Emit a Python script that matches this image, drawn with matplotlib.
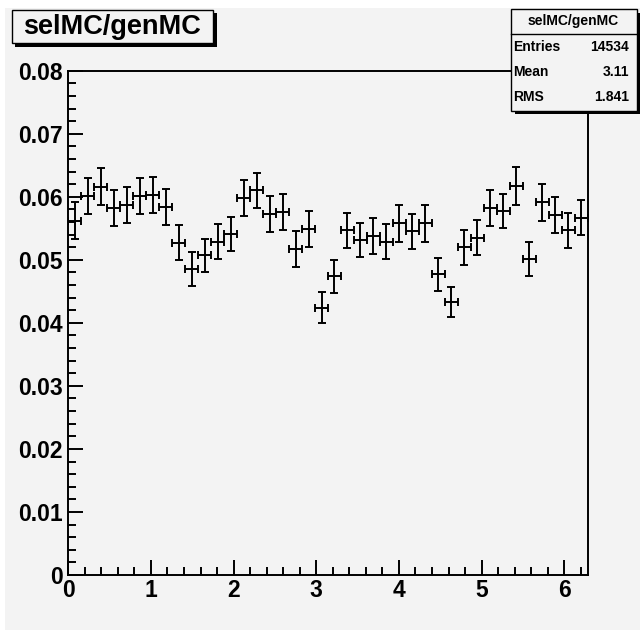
import numpy as np
import matplotlib
matplotlib.use("Agg")
import matplotlib.pyplot as plt
from matplotlib.patches import Rectangle
from matplotlib.ticker import MultipleLocator

# selMC/genMC ratio, 40 bins from 0 to 2pi
ratio = [0.0562, 0.0601, 0.0616, 0.0582, 0.0587, 0.0601, 0.0603, 0.0584, 0.0527, 0.0486,
         0.0507, 0.0529, 0.0541, 0.0598, 0.0610, 0.0573, 0.0576, 0.0517, 0.0549, 0.0424,
         0.0474, 0.0547, 0.0532, 0.0538, 0.0529, 0.0558, 0.0545, 0.0558, 0.0477, 0.0433,
         0.0520, 0.0535, 0.0582, 0.0578, 0.0617, 0.0502, 0.0591, 0.0571, 0.0547, 0.0567]
ratio_err = [0.0029, 0.0029, 0.0029, 0.0029, 0.0028, 0.0029, 0.0029, 0.0028, 0.0028, 0.0027,
             0.0026, 0.0028, 0.0027, 0.0029, 0.0028, 0.0029, 0.0029, 0.0028, 0.0028, 0.0025,
             0.0026, 0.0028, 0.0027, 0.0028, 0.0028, 0.0029, 0.0028, 0.0029, 0.0026, 0.0024,
             0.0028, 0.0028, 0.0029, 0.0027, 0.0030, 0.0027, 0.0029, 0.0029, 0.0028, 0.0028]
n_bins = 40
x_min, x_max = 0.0, 2 * np.pi

stats_name = "selMC/genMC"
stats_rows = [("Entries", "14534"), ("Mean", "3.11"), ("RMS", "1.841")]

W, H = 640, 630
bg = "#f3f3f3"
font = "Liberation Sans"

edges = np.linspace(x_min, x_max, n_bins + 1)
centers = 0.5 * (edges[:-1] + edges[1:])
half_w = 0.5 * (edges[1] - edges[0])

fig = plt.figure(figsize=(W / 100, H / 100), dpi=100, facecolor=bg)
# thin white bevel on top/left of the ROOT canvas
fig.patches.append(Rectangle((0, 1 - 8 / H), 1, 8 / H, transform=fig.transFigure,
                             facecolor="white", edgecolor="none", zorder=-10))
fig.patches.append(Rectangle((0, 0), 5 / W, 1, transform=fig.transFigure,
                             facecolor="white", edgecolor="none", zorder=-10))

ax = fig.add_axes([68.3 / W, 1 - 575 / H, (587.7 - 68.3) / W, (575 - 70.7) / H])
ax.set_facecolor(bg)
ax.errorbar(centers, ratio, xerr=half_w, yerr=ratio_err, fmt="none", ecolor="black",
            elinewidth=1.4, capsize=3.2, capthick=1.4)

ax.set_xlim(x_min, x_max)
ax.set_ylim(0, 0.08)
ax.xaxis.set_major_locator(MultipleLocator(1))
ax.xaxis.set_minor_locator(MultipleLocator(0.2))
ax.yaxis.set_major_locator(MultipleLocator(0.01))
ax.yaxis.set_minor_locator(MultipleLocator(0.002))
ax.tick_params(which="both", direction="in", top=False, right=False, width=1.4)
ax.tick_params(which="major", length=11)
ax.tick_params(which="minor", length=5.5)
ax.tick_params(axis="x", pad=3)
ax.tick_params(axis="y", pad=4)
for spine in ax.spines.values():
    spine.set_linewidth(1.4)

ax.set_xticks(range(0, 7))
ax.set_xticklabels([str(v) for v in range(0, 7)])
yt = np.arange(0, 0.0801, 0.01)
ax.set_yticks(yt)
ax.set_yticklabels(["0"] + ["%.2f" % v for v in yt[1:]])
for lab in ax.get_xticklabels() + ax.get_yticklabels():
    lab.set_fontfamily(font)
    lab.set_fontweight("bold")
    lab.set_fontsize(16.5)


def box(x0, y0, x1, y1, shadow=3.5):
    # pixel coords from the top-left corner
    fig.patches.append(Rectangle((x0 / W + shadow / W, 1 - (y1 + shadow) / H),
                                 (x1 - x0) / W, (y1 - y0) / H, transform=fig.transFigure,
                                 facecolor="black", edgecolor="none", zorder=5))
    fig.patches.append(Rectangle((x0 / W, 1 - y1 / H), (x1 - x0) / W, (y1 - y0) / H,
                                 transform=fig.transFigure, facecolor=bg,
                                 edgecolor="black", linewidth=1.0, zorder=6))


# title box
box(11.7, 10, 213, 43)
fig.text(112 / W, 1 - 27 / H, "selMC/genMC", ha="center", va="center", family=font,
         fontweight="bold", fontsize=19.5, zorder=7)

# stats box
box(511, 9.3, 636.5, 110.7, shadow=3.5)
fig.add_artist(plt.Line2D([511 / W, 636.5 / W], [1 - 34.3 / H, 1 - 34.3 / H],
                          transform=fig.transFigure, color="black", linewidth=1.0, zorder=7))
fig.text(573.5 / W, 1 - 21.5 / H, stats_name, ha="center", va="center", family=font,
         fontweight="bold", fontsize=10, zorder=7)
for i, (name, val) in enumerate(stats_rows):
    yy = 1 - (46.7 + 25 * i) / H
    fig.text(513 / W, yy, name, ha="left", va="center", family=font,
             fontweight="bold", fontsize=10, zorder=7)
    fig.text(629 / W, yy, val, ha="right", va="center", family=font,
             fontweight="bold", fontsize=10, zorder=7)

fig.savefig("out.png", dpi=100, facecolor=fig.get_facecolor())
